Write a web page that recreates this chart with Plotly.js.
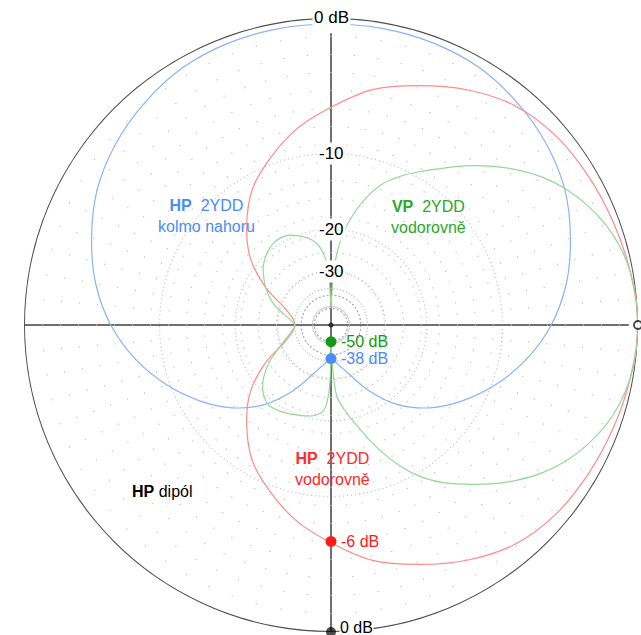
<!DOCTYPE html>
<html><head><meta charset="utf-8">
<script src="https://cdn.plot.ly/plotly-3.0.1.min.js"></script>
<style>html,body{margin:0;padding:0;background:#fff}#chart{width:641px;height:635px}</style>
</head><body><div id="chart"></div>
<script>
// Angles in degrees, clockwise from the top (0 = up, 90 = right). Levels in dB.
const dipoleTheta = [0,10,20,30,40,50,60,70,80,90,100,110,120,130,140,150,160,170,180,190,200,210,220,230,240,250,260,270,280,290,300,310,320,330,340,350,360];
const dipoleDb    = [0,0,0,0,0,0,0,0,0,0,0,0,0,0,0,0,0,0,0,0,0,0,0,0,0,0,0,0,0,0,0,0,0,0,0,0,0];

// HP 2YDD kolmo nahoru (blue)
const blueTheta = [-180,-175,-170,-165,-160,-150,-140,-130,-120,-110,-100,-90,-80,-70,-60,-50,-40,-30,-20,-10,0,
                   10,20,30,40,50,60,70,80,90,100,110,120,130,140,150,160,165,170,175,180];
const blueDb    = [-38,-36.8,-35,-33,-30.5,-24,-18.6,-14.9,-12.1,-9.65,-7.5,-5.7,-4.3,-3.2,-2.2,-1.5,-0.98,-0.57,-0.4,-0.34,-0.34,
                   -0.34,-0.4,-0.57,-0.98,-1.5,-2.2,-3.2,-4.3,-5.7,-7.5,-9.65,-12.1,-14.9,-18.6,-24,-30.5,-33,-35,-36.8,-38];

// HP 2YDD vodorovně (red)
const redTheta = [-90,-80,-70,-60,-50,-40,-30,-20,-10,0,10,20,30,40,50,60,70,80,90,
                  100,110,120,130,140,150,160,170,180,190,200,210,220,230,240,250,260,270];
const redDb    = [-36.8,-35.4,-31.5,-24,-18.3,-14.6,-11.5,-9.4,-7.45,-5.9,-4.3,-3.2,-2.1,-1.2,-0.75,-0.55,-0.37,-0.17,0,
                  -0.17,-0.37,-0.55,-0.75,-1.2,-2.1,-3.2,-4.3,-5.9,-7.45,-9.4,-11.5,-14.6,-18.3,-24,-31.5,-35.4,-36.8];

// VP 2YDD vodorovně (green)
const greenTheta = [0,3,5,8,11,15,20,25,30,35,40,45,50,55,60,65,70,75,80,85,90,
                    95,100,105,110,115,120,125,130,135,140,145,150,155,160,165,170,175,177,180,
                    182,185,190,195,200,205,210,215,220,225,230,235,240,245,250,255,260,265,270,
                    275,280,285,290,295,300,305,310,315,320,325,330,335,340,345,350,355,357,360];
const greenDb    = [-50,-29.5,-24.4,-20.1,-17.5,-14.75,-12.3,-10.75,-9.45,-8.15,-6.7,-5.35,-4.1,-3,-2.1,-1.4,-0.83,-0.42,-0.17,-0.04,0,
                    -0.04,-0.17,-0.42,-0.83,-1.4,-2.1,-3,-4.1,-5.35,-6.7,-8.05,-9.75,-12.1,-15,-18.25,-21.25,-24.65,-29.5,-50,
                    -25.4,-21.85,-20.7,-20.3,-19.95,-19.6,-19.25,-19,-19.15,-19.95,-21.25,-23.1,-25.4,-28.3,-30.8,-32.95,-34.75,-36.1,-36.8,
                    -35.4,-33.35,-30.5,-27.75,-25.75,-24.05,-22.65,-21.35,-20.4,-19.7,-19.25,-19.15,-19.4,-20.15,-21.05,-22.45,-25.85,-29.5,-50];
const greenCorners = [180, 270];   // sharp nulls / notch where the curve is split

const ringDb = [-10, -20, -30, -40, -50];
const ringLabels = ['-10', '-20', '-30'];

const markTheta = [180, 180, 180];
const markDb    = [-6, -38, -50];
const markText  = ['-6 dB', '-38 dB', '-50 dB'];
const markColor = ['#ff1a1a', '#4b8cf6', '#139a13'];

// ARRL log-periodic radial scale: every 2 dB shrinks the radius by a factor 0.89
const toR = db => Math.pow(0.89, -db / 2);
const FONT = 'Liberation Sans, Arial, Helvetica, sans-serif';

function splitAt(theta, db, corners) {
  const segs = []; let cur = {t: [], r: []};
  theta.forEach((t, i) => {
    cur.t.push(t); cur.r.push(toR(db[i]));
    if (corners.includes(t) && cur.t.length > 1) { segs.push(cur); cur = {t: [t], r: [toR(db[i])]}; }
  });
  if (cur.t.length > 1) segs.push(cur);
  return segs;
}
function curve(theta, db, color, width, corners) {
  return splitAt(theta, db, corners || []).map(s => ({
    type: 'scatterpolar', mode: 'lines', theta: s.t, r: s.r,
    line: {color: color, width: width, shape: 'spline', smoothing: 1},
    hoverinfo: 'skip', cliponaxis: false
  }));
}

const traces = [].concat(
  curve(dipoleTheta, dipoleDb, '#505050', 2),
  curve(blueTheta, blueDb, '#8ab2f8', 1.2),
  curve(redTheta, redDb, '#ff8a8a', 1.2),
  curve(greenTheta, greenDb, '#98d698', 1.2, greenCorners),
  [{
    type: 'scatterpolar', mode: 'markers', theta: markTheta, r: markDb.map(toR),
    marker: {color: markColor, size: 11}, hoverinfo: 'skip', cliponaxis: false
  }, {
    type: 'scatterpolar', mode: 'markers', theta: [180, 90, 0], r: [toR(0), toR(0), 0],
    marker: {color: ['#000', '#fff', '#000'], size: [10, 8, 5], symbol: 'circle',
             line: {color: '#000', width: [0, 2, 0]}},
    hoverinfo: 'skip', cliponaxis: false
  }]
);

const dom = {x: [24/641, 638/641], y: [3/635, 617/635]};
const shapes = [];
ringDb.forEach((d, i) => {
  const r = toR(d);
  shapes.push({type: 'circle', xref: 'x', yref: 'y', x0: -r, x1: r, y0: -r, y1: r, layer: 'below',
    line: {color: i < 3 ? '#bdbdbd' : '#a8a8a8', width: 1.2, dash: i < 3 ? '1px,3px' : '2px,2px'}});
});
shapes.push({type: 'line', xref: 'x', yref: 'y', x0: -1.046, x1: 0.97, y0: 0, y1: 0, layer: 'below',
  line: {color: '#707070', width: 2}});
shapes.push({type: 'line', xref: 'x', yref: 'y', x0: 0, x1: 0, y0: -1, y1: 0.95, layer: 'below',
  line: {color: '#707070', width: 2}});

const ann = [];
ann.push({xref: 'x', yref: 'y', x: 0, y: toR(0), text: '0 dB', showarrow: false, bgcolor: '#fff',
  font: {family: FONT, size: 17, color: '#000'}, borderpad: 1});
ann.push({xref: 'x', yref: 'y', x: 0, y: -toR(0), text: '0 dB', showarrow: false, bgcolor: '#fff',
  xanchor: 'left', xshift: 8, yshift: 5, font: {family: FONT, size: 16, color: '#000'}, borderpad: 0});
ringLabels.forEach((t, i) => ann.push({xref: 'x', yref: 'y', x: 0, y: toR(ringDb[i]), text: t,
  showarrow: false, bgcolor: '#fff', font: {family: FONT, size: 17, color: '#000'}, borderpad: 1}));
markText.forEach((t, i) => ann.push({xref: 'x', yref: 'y', x: 0, y: -toR(markDb[i]), text: t,
  showarrow: false, xanchor: 'left', xshift: 8, font: {family: FONT, size: 16, color: markColor[i]}}));

const P = (px, py) => ({xref: 'paper', yref: 'paper', x: px / 641, y: 1 - py / 635, showarrow: false});
ann.push(Object.assign(P(156, 216), {text: '<b>HP</b>  2YDD<br>kolmo nahoru', align: 'center',
  font: {family: FONT, size: 16, color: '#4b8cf6'}}));
ann.push(Object.assign(P(468, 196), {text: '<b>VP</b>  2YDD<br>vodorovně', align: 'center',
  font: {family: FONT, size: 16, color: '#2aa82a'}}));
ann.push(Object.assign(P(332, 490), {text: '<b>HP</b>  2YDD<br>vodorovně', align: 'center',
  font: {family: FONT, size: 16, color: '#ff2a2a'}}));
ann.push(Object.assign(P(130, 502), {text: '<b>HP</b> dipól',
  font: {family: FONT, size: 16, color: '#000'}}));

const layout = {
  width: 641, height: 635, margin: {l: 0, r: 0, t: 0, b: 0},
  paper_bgcolor: '#fff', plot_bgcolor: 'rgba(0,0,0,0)', showlegend: false,
  font: {family: FONT},
  xaxis: {domain: dom.x, range: [-1, 1], visible: false, fixedrange: true},
  yaxis: {domain: dom.y, range: [-1, 1], visible: false, fixedrange: true},
  polar: {
    domain: dom, bgcolor: 'rgba(0,0,0,0)',
    radialaxis: {range: [0, 1], visible: true, showline: false, showticklabels: false, ticks: '', showgrid: false},
    angularaxis: {rotation: 90, direction: 'clockwise', showline: false, showticklabels: false, ticks: '',
      dtick: 5, showgrid: true, gridcolor: '#bcbcbc', gridwidth: 1.3, griddash: '1px,17px'}
  },
  shapes: shapes, annotations: ann
};
Plotly.newPlot('chart', traces, layout, {staticPlot: true, displayModeBar: false});
</script></body></html>
